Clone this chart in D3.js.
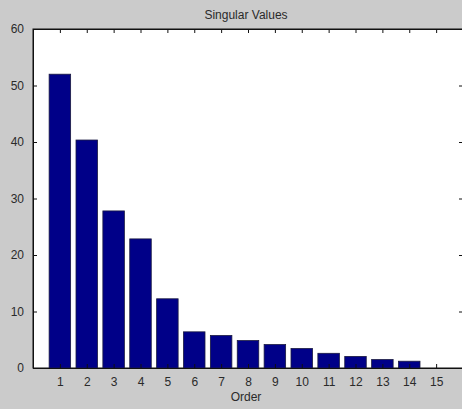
<!DOCTYPE html>
<html><head><meta charset="utf-8">
<script src="https://cdn.jsdelivr.net/npm/d3@7"></script>
<style>
html,body{margin:0;padding:0;background:#cbcbcb;}
svg{display:block;}
text{font-family:"Liberation Sans",Arial,sans-serif;font-size:12px;fill:#2a2a2a;}
</style></head>
<body>
<script>
const categories = [1,2,3,4,5,6,7,8,9,10,11,12,13,14,15];
const values = [52.0,40.35,27.8,22.85,12.25,6.4,5.75,4.85,4.15,3.45,2.6,2.05,1.5,1.2,0];
const yTicks = [0,10,20,30,40,50,60];
const title = "Singular Values";
const xLabel = "Order";

const W = 462, H = 409;
const m = {left:33, top:29, right:-1, bottom:41};
const svg = d3.select("body").append("svg").attr("width",W).attr("height",H);
svg.append("rect").attr("width",W).attr("height",H).attr("fill","#cbcbcb");

const x = d3.scaleLinear().domain([0,16]).range([m.left, W - m.right]);
const y = d3.scaleLinear().domain([0,60]).range([H - m.bottom, m.top]);
const bw = 0.8*(x(1)-x(0));

svg.append("rect").attr("x",x(0)).attr("y",y(60)).attr("width",x(16)-x(0)).attr("height",y(0)-y(60))
  .attr("fill","#fff").attr("stroke","#111").attr("stroke-width",1);

svg.selectAll("rect.bar").data(values).enter().append("rect").attr("class","bar")
  .attr("x",(d,i)=>x(categories[i])-bw/2)
  .attr("y",d=>y(d))
  .attr("width",bw)
  .attr("height",d=>y(0)-y(d))
  .attr("fill","#000088")
  .attr("stroke",d=>d>0?"#1a1a40":"none").attr("stroke-width",0.8);

// axes
const xb = svg.append("g").attr("transform",`translate(0,${y(0)})`)
  .call(d3.axisBottom(x).tickValues(categories).tickSize(-4).tickPadding(9).tickFormat(d3.format("d")));
const xt = svg.append("g").attr("transform",`translate(0,${y(60)})`)
  .call(d3.axisTop(x).tickValues(categories).tickSize(-4).tickFormat(""));
const yl = svg.append("g").attr("transform",`translate(${x(0)},0)`)
  .call(d3.axisLeft(y).tickValues(yTicks).tickSize(-4).tickPadding(9));
const yr = svg.append("g").attr("transform",`translate(${x(16)},0)`)
  .call(d3.axisRight(y).tickValues(yTicks).tickSize(-4).tickFormat(""));
[xb,xt,yl,yr].forEach(g=>{
  g.select(".domain").attr("stroke","#111");
  g.selectAll(".tick line").attr("stroke","#111");
  g.selectAll("text").attr("font-family","Liberation Sans, Arial, sans-serif").attr("font-size",12.5).attr("fill","#2a2a2a");
});

svg.append("text").attr("x",(x(0)+x(16))/2-2).attr("y",19).attr("text-anchor","middle").attr("font-size",12.5).text(title);
svg.append("text").attr("x",(x(0)+x(16))/2-2).attr("y",401).attr("text-anchor","middle").attr("font-size",12.5).text(xLabel);
</script>
</body></html>
